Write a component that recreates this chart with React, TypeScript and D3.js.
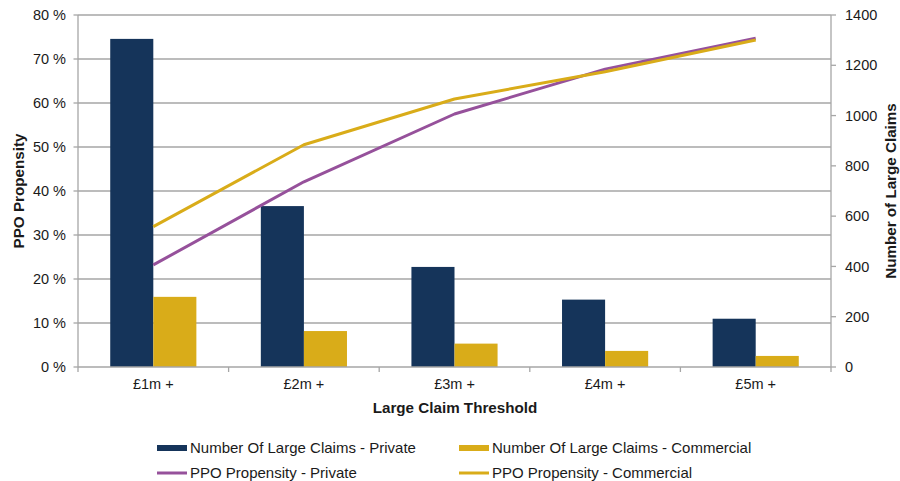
import React from 'react';
import * as d3 from 'd3';

const categories = ['£1m +', '£2m +', '£3m +', '£4m +', '£5m +'];
const claimsPrivate = [1305, 640, 398, 268, 192];
const claimsCommercial = [279, 143, 93, 64, 44];
const ppoPrivate = [23.2, 42.1, 57.5, 67.7, 74.7];
const ppoCommercial = [31.9, 50.5, 60.9, 67.1, 74.3];
const pctTicks = [0, 10, 20, 30, 40, 50, 60, 70, 80];
const countTicks = [0, 200, 400, 600, 800, 1000, 1200, 1400];

const W = 900;
const H = 481;
const left = 78;
const right = 831;
const top = 15;
const bottom = 367;

const NAVY = '#15345a';
const GOLD = '#d9ac19';
const PURPLE = '#96519b';
const GRID = '#a6a6a6';
const FONT = '"Liberation Sans", Arial, sans-serif';

const App: React.FC = () => {
  const x = d3.scaleBand<string>().domain(categories).range([left, right]);
  const yPct = d3.scaleLinear().domain([0, 80]).range([bottom, top]);
  const yCount = d3.scaleLinear().domain([0, 1400]).range([bottom, top]);

  const groupW = x.bandwidth() * 0.572;
  const barW = groupW / 2;
  const center = (c: string) => (x(c) as number) + x.bandwidth() / 2;

  const line = d3.line<number>()
    .x((_d, i) => center(categories[i]))
    .y(d => yPct(d));

  const legend = [
    { label: 'Number Of Large Claims - Private', color: NAVY, kind: 'bar', lx: 157, ly: 448 },
    { label: 'Number Of Large Claims - Commercial', color: GOLD, kind: 'bar', lx: 459, ly: 448 },
    { label: 'PPO Propensity - Private', color: PURPLE, kind: 'line', lx: 157, ly: 473 },
    { label: 'PPO Propensity - Commercial', color: GOLD, kind: 'line', lx: 459, ly: 473 },
  ];

  return (
    <div style={{ position: 'fixed', left: 0, top: 0 }}>
      <svg width={W} height={H} style={{ display: 'block', background: '#fff' }} fontFamily={FONT}>
        {/* gridlines */}
        {pctTicks.slice(1).map(t => (
          <line key={t} x1={left} x2={right} y1={yPct(t)} y2={yPct(t)} stroke={GRID} strokeWidth={1.3} />
        ))}

        {/* bars */}
        {categories.map((c, i) => (
          <g key={c}>
            <rect x={center(c) - barW} y={yCount(claimsPrivate[i])} width={barW}
              height={bottom - yCount(claimsPrivate[i])} fill={NAVY} />
            <rect x={center(c)} y={yCount(claimsCommercial[i])} width={barW}
              height={bottom - yCount(claimsCommercial[i])} fill={GOLD} />
          </g>
        ))}

        {/* lines */}
        <path d={line(ppoPrivate) || ''} fill="none" stroke={PURPLE} strokeWidth={3} strokeLinejoin="round" />
        <path d={line(ppoCommercial) || ''} fill="none" stroke={GOLD} strokeWidth={3} strokeLinejoin="round" />

        {/* left axis */}
        <line x1={left} x2={left} y1={top} y2={bottom} stroke={GRID} strokeWidth={1.3} />
        {pctTicks.map(t => (
          <g key={t}>
            <line x1={left - 4.5} x2={left} y1={yPct(t)} y2={yPct(t)} stroke={GRID} strokeWidth={1.3} />
            <text x={66} y={yPct(t)} dy="0.35em" textAnchor="end" fontSize={14.5} fill="#1a1a1a">{`${t} %`}</text>
          </g>
        ))}

        {/* right axis */}
        <line x1={right} x2={right} y1={top} y2={bottom} stroke={GRID} strokeWidth={1.3} />
        {countTicks.map(t => (
          <g key={t}>
            <line x1={right} x2={right + 5} y1={yCount(t)} y2={yCount(t)} stroke={GRID} strokeWidth={1.3} />
            <text x={845} y={yCount(t)} dy="0.35em" textAnchor="start" fontSize={14.5} fill="#1a1a1a">{t}</text>
          </g>
        ))}

        {/* bottom axis */}
        <line x1={left} x2={right} y1={bottom} y2={bottom} stroke={GRID} strokeWidth={1.5} />
        {[...categories.map(c => x(c) as number), right].map((v, i) => (
          <line key={i} x1={v} x2={v} y1={bottom} y2={bottom + 5} stroke={GRID} strokeWidth={1.3} />
        ))}
        {categories.map(c => (
          <text key={c} x={center(c)} y={384} dy="0.35em" textAnchor="middle" fontSize={14.5} fill="#1a1a1a">{c}</text>
        ))}

        {/* axis titles */}
        <text x={455} y={408} dy="0.35em" textAnchor="middle" fontSize={15.2} fontWeight="bold" fill="#1a1a1a">
          Large Claim Threshold
        </text>
        <text transform={`translate(19, ${(top + bottom) / 2}) rotate(-90)`} dy="0.35em" textAnchor="middle"
          fontSize={15.2} fontWeight="bold" fill="#1a1a1a">PPO Propensity</text>
        <text transform={`translate(891, ${(top + bottom) / 2}) rotate(-90)`} dy="0.35em" textAnchor="middle"
          fontSize={15.2} fontWeight="bold" fill="#1a1a1a">Number of Large Claims</text>

        {/* legend */}
        {legend.map(l => (
          <g key={l.label}>
            {l.kind === 'bar'
              ? <rect x={l.lx} y={l.ly - 3} width={30} height={6} fill={l.color} />
              : <line x1={l.lx} x2={l.lx + 30} y1={l.ly} y2={l.ly} stroke={l.color} strokeWidth={3} />}
            <text x={l.lx + 33} y={l.ly} dy="0.35em" fontSize={15} fill="#1a1a1a">{l.label}</text>
          </g>
        ))}
      </svg>
    </div>
  );
};

export default App;
